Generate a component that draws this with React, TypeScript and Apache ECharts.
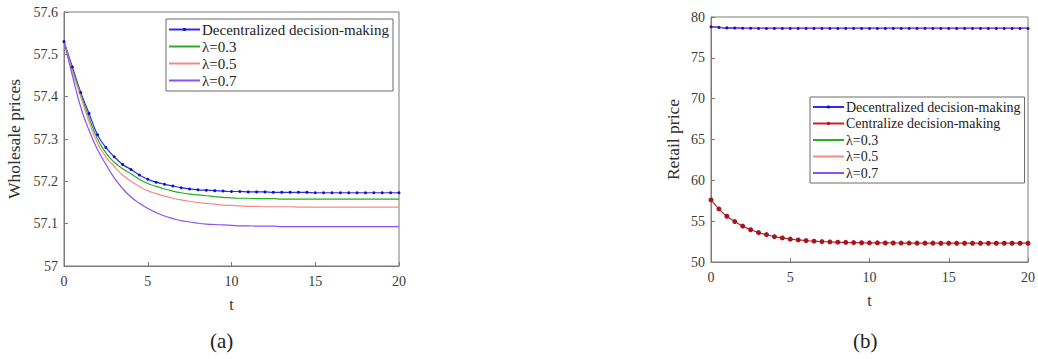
import React, { useEffect, useRef } from "react";
import * as echarts from "echarts";

// Time grid (t)
const T = [
  0, 0.5, 1, 1.5, 2, 2.5, 3, 3.5, 4, 4.5, 5, 5.5, 6, 6.5, 7, 7.5, 8, 8.5, 9, 9.5, 10,
  10.5, 11, 11.5, 12, 12.5, 13, 13.5, 14, 14.5, 15, 15.5, 16, 16.5, 17, 17.5, 18, 18.5, 19, 19.5, 20,
];

// (a) Wholesale prices
const wholesaleDecentralized = [
  57.53, 57.47, 57.41, 57.36, 57.31, 57.28, 57.258, 57.24, 57.228, 57.215, 57.205, 57.198, 57.193,
  57.189, 57.185, 57.182, 57.18, 57.179, 57.178, 57.177, 57.176, 57.176, 57.175, 57.175, 57.175,
  57.174, 57.174, 57.174, 57.174, 57.174, 57.173, 57.173, 57.173, 57.173, 57.173, 57.173, 57.173,
  57.173, 57.173, 57.173, 57.173,
];
const wholesaleL03 = [
  57.53, 57.465, 57.405, 57.35, 57.3, 57.267, 57.245, 57.23, 57.218, 57.205, 57.195, 57.188, 57.182,
  57.177, 57.173, 57.17, 57.168, 57.166, 57.164, 57.162, 57.161, 57.16, 57.16, 57.159, 57.159,
  57.159, 57.158, 57.158, 57.158, 57.158, 57.158, 57.158, 57.158, 57.158, 57.158, 57.158, 57.158,
  57.158, 57.158, 57.158, 57.158,
];
const wholesaleL05 = [
  57.53, 57.46, 57.4, 57.34, 57.29, 57.258, 57.235, 57.215, 57.2, 57.188, 57.178, 57.171, 57.165,
  57.16, 57.156, 57.153, 57.15, 57.148, 57.146, 57.144, 57.143, 57.142, 57.141, 57.141, 57.14,
  57.14, 57.14, 57.14, 57.139, 57.139, 57.139, 57.139, 57.139, 57.139, 57.139, 57.139, 57.139,
  57.139, 57.139, 57.139, 57.139,
];
const wholesaleL07 = [
  57.53, 57.45, 57.375, 57.32, 57.275, 57.24, 57.208, 57.183, 57.163, 57.148, 57.136, 57.126, 57.118,
  57.112, 57.107, 57.104, 57.101, 57.099, 57.098, 57.097, 57.096, 57.095, 57.095, 57.094, 57.094,
  57.094, 57.093, 57.093, 57.093, 57.093, 57.093, 57.093, 57.093, 57.093, 57.093, 57.093, 57.093,
  57.093, 57.093, 57.093, 57.093,
];

// (b) Retail price
const retailDecentralized = [
  78.8, 78.72, 78.67, 78.64, 78.62, 78.61, 78.6, 78.6, 78.6, 78.6, 78.6, 78.6, 78.6, 78.6, 78.6,
  78.6, 78.6, 78.6, 78.6, 78.6, 78.6, 78.6, 78.6, 78.6, 78.6, 78.6, 78.6, 78.6, 78.6, 78.6, 78.6,
  78.6, 78.6, 78.6, 78.6, 78.6, 78.6, 78.6, 78.6, 78.6, 78.6,
];
const retailCentralized = [
  57.6, 56.5, 55.6, 54.95, 54.4, 53.95, 53.6, 53.35, 53.1, 52.95, 52.8, 52.7, 52.62, 52.55, 52.5,
  52.46, 52.43, 52.4, 52.38, 52.36, 52.35, 52.34, 52.33, 52.33, 52.32, 52.32, 52.31, 52.31, 52.31,
  52.3, 52.3, 52.3, 52.3, 52.3, 52.3, 52.3, 52.3, 52.3, 52.3, 52.3, 52.3,
];
const retailL03 = retailDecentralized;
const retailL05 = retailDecentralized;
const retailL07 = retailDecentralized;

const xTicksA = [0, 5, 10, 15, 20];
const yTicksA = [57, 57.1, 57.2, 57.3, 57.4, 57.5, 57.6];
const yTicksB = [50, 55, 60, 65, 70, 75, 80];

const DEC = "Decentralized decision-making";
const CEN = "Centralize decision-making";
const L3 = "λ=0.3";
const L5 = "λ=0.5";
const L7 = "λ=0.7";

const FONT = "Liberation Serif";
const COLORS = {
  dec: "#2b2bf2",
  cen: "#c8202c",
  l3: "#22b022",
  l5: "#f58a84",
  l7: "#8a52f0",
};

const pairs = (vals: number[]) => T.map((t, i) => [t, vals[i]]);

// legend entry for a plain line (no marker in the key)
const plainKey = (name: string) => ({ name, itemStyle: { opacity: 0 } });

export default function App() {
  const ref = useRef<HTMLDivElement>(null);

  useEffect(() => {
    if (!ref.current) return;
    const chart = echarts.init(ref.current, undefined, { renderer: "svg" });

    const tickLabel = {
      show: true,
      color: "#3a3a3a",
      fontFamily: FONT,
      fontSize: 14,
      fontWeight: "normal",
    };

    const xAxisBase = (gridIndex: number) => ({
      type: "value",
      gridIndex,
      min: xTicksA[0],
      max: xTicksA[xTicksA.length - 1],
      interval: 5,
      name: "t",
      nameLocation: "middle",
      nameGap: 30,
      nameTextStyle: { color: "#333", fontFamily: FONT, fontSize: 16 },
      axisLine: { show: true, lineStyle: { color: "#7a7a7a" } },
      axisTick: { show: true, inside: true, length: 4, lineStyle: { color: "#7a7a7a" } },
      axisLabel: { ...tickLabel, margin: 8 },
      splitLine: { show: false },
    });

    const lineSeries = (
      name: string,
      vals: number[],
      color: string,
      idx: number,
      symbol?: { symbol: string; size: number; color: string }
    ) => ({
      type: "line",
      name,
      xAxisIndex: idx,
      yAxisIndex: idx,
      data: pairs(vals),
      smooth: true,
      symbol: symbol ? symbol.symbol : "none",
      symbolSize: symbol ? symbol.size : 0,
      showSymbol: !!symbol,
      itemStyle: { color: symbol ? symbol.color : color },
      lineStyle: { color, width: 1.2 },
    });

    const legendBase = {
      orient: "vertical",
      itemWidth: 31,
      itemHeight: 4,
      itemGap: 3,
      padding: [3, 4, 3, 2],
      borderColor: "#6a6a6a",
      borderWidth: 1,
      backgroundColor: "#ffffff",
    };

    chart.setOption({
      animation: false,
      backgroundColor: "#ffffff",
      textStyle: { fontFamily: FONT },
      grid: [
        { left: 64, top: 12, width: 335, height: 254, show: true, borderColor: "#7a7a7a", borderWidth: 1 },
        { left: 711, top: 17, width: 322, height: 245, show: true, borderColor: "#7a7a7a", borderWidth: 1 },
      ],
      xAxis: [xAxisBase(0), xAxisBase(1)],
      yAxis: [
        {
          type: "value",
          gridIndex: 0,
          min: yTicksA[0],
          max: yTicksA[yTicksA.length - 1],
          interval: 0.1,
          name: "Wholesale prices",
          nameLocation: "middle",
          nameGap: 41,
          nameTextStyle: { color: "#333", fontFamily: FONT, fontSize: 17.5 },
          axisLine: { show: true, lineStyle: { color: "#7a7a7a" } },
          axisTick: { show: true, inside: true, length: 4, lineStyle: { color: "#7a7a7a" } },
          axisLabel: { ...tickLabel, margin: 6, formatter: (v: number) => String(+v.toFixed(1)) },
          splitLine: { show: false },
        },
        {
          type: "value",
          gridIndex: 1,
          min: yTicksB[0],
          max: yTicksB[yTicksB.length - 1],
          interval: 5,
          name: "Retail price",
          nameLocation: "middle",
          nameGap: 29,
          nameTextStyle: { color: "#333", fontFamily: FONT, fontSize: 17.5 },
          axisLine: { show: true, lineStyle: { color: "#7a7a7a" } },
          axisTick: { show: true, inside: true, length: 4, lineStyle: { color: "#7a7a7a" } },
          axisLabel: { ...tickLabel, margin: 6 },
          splitLine: { show: false },
        },
      ],
      legend: [
        {
          ...legendBase,
          data: [DEC, plainKey(L3), plainKey(L5), plainKey(L7)],
          left: 166,
          top: 19,
          itemGap: 2,
          textStyle: { color: "#222", fontFamily: FONT, fontSize: 15, padding: [0, 0, 0, -3] },
        },
        {
          ...legendBase,
          data: [DEC, CEN, plainKey(L3), plainKey(L5), plainKey(L7)],
          left: 810,
          top: 97,
          itemGap: 2.5,
          textStyle: { color: "#222", fontFamily: FONT, fontSize: 14, padding: [0, 0, 0, -3] },
        },
      ],
      series: [
        lineSeries(DEC, wholesaleDecentralized, COLORS.dec, 0, { symbol: "circle", size: 3, color: "#1010c8" }),
        lineSeries(L3, wholesaleL03, COLORS.l3, 0),
        lineSeries(L5, wholesaleL05, COLORS.l5, 0),
        lineSeries(L7, wholesaleL07, COLORS.l7, 0),
        lineSeries(L3, retailL03, COLORS.l3, 1),
        lineSeries(L5, retailL05, COLORS.l5, 1),
        lineSeries(DEC, retailDecentralized, COLORS.dec, 1, { symbol: "circle", size: 3, color: "#1010c8" }),
        lineSeries(L7, retailL07, COLORS.l7, 1),
        lineSeries(CEN, retailCentralized, COLORS.cen, 1, { symbol: "circle", size: 5, color: "#a8141e" }),
      ],
      graphic: [
        {
          type: "text",
          left: 210,
          top: 330,
          style: { text: "(a)", fill: "#222", fontFamily: FONT, fontSize: 21 },
        },
        {
          type: "text",
          left: 853,
          top: 330,
          style: { text: "(b)", fill: "#222", fontFamily: FONT, fontSize: 21 },
        },
      ],
    });

    return () => chart.dispose();
  }, []);

  return (
    <div
      ref={ref}
      style={{ position: "fixed", left: 0, top: 0, width: 1038, height: 359, background: "#fff" }}
    />
  );
}
